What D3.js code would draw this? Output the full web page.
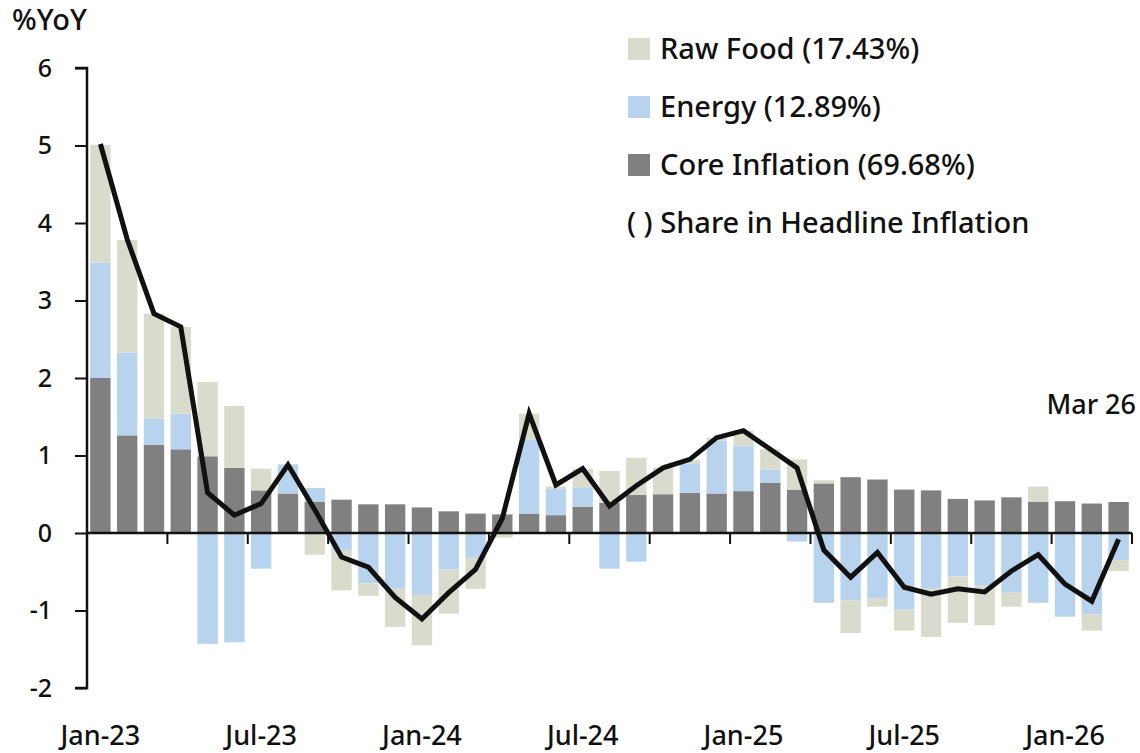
<!DOCTYPE html>
<html>
<head>
<meta charset="utf-8">
<script src="https://cdn.jsdelivr.net/npm/d3@7"></script>
<style>
  body { margin: 0; background: #fff; }
  text { font-family: "Noto Sans", sans-serif; font-weight: 500; fill: #111; }
</style>
</head>
<body>
<div id="canvas"></div>
<script>
const months = ['Jan-23','Feb-23','Mar-23','Apr-23','May-23','Jun-23','Jul-23','Aug-23','Sep-23','Oct-23','Nov-23','Dec-23',
  'Jan-24','Feb-24','Mar-24','Apr-24','May-24','Jun-24','Jul-24','Aug-24','Sep-24','Oct-24','Nov-24','Dec-24',
  'Jan-25','Feb-25','Mar-25','Apr-25','May-25','Jun-25','Jul-25','Aug-25','Sep-25','Oct-25','Nov-25','Dec-25',
  'Jan-26','Feb-26','Mar-26'];
const core = [2.00,1.26,1.14,1.08,0.99,0.84,0.55,0.51,0.40,0.43,0.37,0.37,
  0.33,0.28,0.25,0.24,0.25,0.23,0.34,0.39,0.49,0.50,0.52,0.51,
  0.54,0.65,0.56,0.64,0.72,0.69,0.56,0.55,0.44,0.42,0.46,0.40,
  0.41,0.38,0.40];
const energy = [1.49,1.07,0.34,0.46,-1.43,-1.41,-0.46,0.37,0.18,-0.22,-0.65,-0.72,
  -0.80,-0.47,-0.32,0.00,0.96,0.34,0.25,-0.46,-0.37,0.00,0.38,0.68,
  0.58,0.17,-0.11,-0.90,-0.87,-0.84,-0.99,-0.72,-0.56,-0.68,-0.77,-0.90,
  -1.08,-1.05,-0.35];
const rawFood = [1.52,1.45,1.35,1.12,0.96,0.80,0.28,0.01,-0.28,-0.52,-0.16,-0.49,
  -0.65,-0.57,-0.40,-0.06,0.33,0.03,0.24,0.41,0.48,0.34,0.04,0.04,
  0.20,0.26,0.39,0.04,-0.42,-0.11,-0.27,-0.62,-0.60,-0.51,-0.18,0.20,
  0.00,-0.21,-0.14];
const headline = [5.02,3.79,2.83,2.66,0.52,0.23,0.38,0.88,0.30,-0.31,-0.44,-0.83,
  -1.11,-0.77,-0.47,0.19,1.54,0.62,0.83,0.35,0.61,0.84,0.95,1.23,
  1.32,1.08,0.84,-0.22,-0.57,-0.25,-0.70,-0.79,-0.72,-0.76,-0.49,-0.28,
  -0.66,-0.88,-0.08];
const yTicks = [-2,-1,0,1,2,3,4,5,6];
const seriesKeys = ['core','energy','rawFood'];
const colors = { core: '#808080', energy: '#b8d3ed', rawFood: '#d9dccc' };
const legendItems = [
  { key: 'rawFood', label: 'Raw Food (17.43%)' },
  { key: 'energy', label: 'Energy (12.89%)' },
  { key: 'core', label: 'Core Inflation (69.68%)' }
];

const W = 1140, H = 753;
const MARGIN = { LEFT: 87, RIGHT: 8, TOP: 68, BOTTOM: 65 };

const svg = d3.select('#canvas').append('svg')
  .attr('width', W)
  .attr('height', H);

const table = months.map((m, i) => ({ month: m, core: core[i], energy: energy[i], rawFood: rawFood[i] }));

const x = d3.scaleBand()
  .domain(months)
  .range([MARGIN.LEFT, W - MARGIN.RIGHT])
  .paddingInner(0.24)
  .paddingOuter(0.12);

const y = d3.scaleLinear()
  .domain([-2, 6])
  .range([H - MARGIN.BOTTOM, MARGIN.TOP]);

const stacked = d3.stack()
  .keys(seriesKeys)
  .offset(d3.stackOffsetDiverging)(table);

svg.append('g')
  .selectAll('g')
  .data(stacked)
  .join('g')
    .attr('fill', d => colors[d.key])
  .selectAll('rect')
  .data(d => d)
  .join('rect')
    .attr('x', d => x(d.data.month))
    .attr('width', x.bandwidth())
    .attr('y', d => y(Math.max(d[0], d[1])))
    .attr('height', d => Math.abs(y(d[0]) - y(d[1])));

// y axis
const yAxis = svg.append('g')
  .attr('transform', `translate(${MARGIN.LEFT},0)`)
  .call(d3.axisLeft(y).tickValues(yTicks).tickSize(12).tickPadding(23).tickFormat(d => String(d)));
yAxis.select('.domain').attr('stroke', '#111').attr('stroke-width', 2.5).attr('d', `M-12,${y(6)}H0V${y(-2)}H-12`);
yAxis.selectAll('.tick line').attr('stroke', '#111').attr('stroke-width', 2);
yAxis.selectAll('.tick text').attr('font-size', 25).attr('fill', '#111')
  .style('font-family', '"Noto Sans", sans-serif');

// x axis along zero
const step = x.step();
const xAxis = svg.append('g')
  .attr('transform', `translate(0,${y(0)})`);
xAxis.append('line')
  .attr('x1', MARGIN.LEFT).attr('x2', W - MARGIN.RIGHT)
  .attr('stroke', '#111').attr('stroke-width', 2.5);
xAxis.selectAll('.xtick')
  .data(months.filter((m, i) => i % 3 === 2))
  .join('line')
    .attr('class', 'xtick')
    .attr('x1', d => x(d) + x.bandwidth() + (step - x.bandwidth()) / 2)
    .attr('x2', d => x(d) + x.bandwidth() + (step - x.bandwidth()) / 2)
    .attr('y1', 0).attr('y2', 11)
    .attr('stroke', '#111').attr('stroke-width', 2);

svg.append('g')
  .selectAll('text')
  .data(months.filter((m, i) => i % 6 === 0))
  .join('text')
    .attr('x', d => x(d) + x.bandwidth() / 2)
    .attr('y', 745)
    .attr('text-anchor', 'middle')
    .attr('font-size', 27)
    .text(d => d);

// headline line
const line = d3.line()
  .x((d, i) => x(months[i]) + x.bandwidth() / 2)
  .y(d => y(d));

svg.append('path')
  .datum(headline)
  .attr('fill', 'none')
  .attr('stroke', '#111')
  .attr('stroke-width', 5)
  .attr('stroke-linejoin', 'miter')
  .attr('d', line);

// labels
svg.append('text').attr('x', 12).attr('y', 30).attr('font-size', 29).attr('font-weight', 400).text('%YoY');
svg.append('text').attr('x', 1136).attr('y', 414).attr('text-anchor', 'end').attr('font-size', 27).text('Mar 26');

const legend = svg.append('g');
legendItems.forEach((item, i) => {
  const ly = 49 + i * 58;
  legend.append('rect')
    .attr('x', 628).attr('y', ly - 11).attr('width', 22).attr('height', 22)
    .attr('fill', colors[item.key]);
  legend.append('text')
    .attr('x', 660).attr('y', ly + 10)
    .attr('font-size', 29)
    .text(item.label);
});
legend.append('text')
  .attr('x', 627).attr('y', 49 + 3 * 58 + 10)
  .attr('font-size', 29)
  .text('( ) Share in Headline Inflation');
</script>
</body>
</html>
